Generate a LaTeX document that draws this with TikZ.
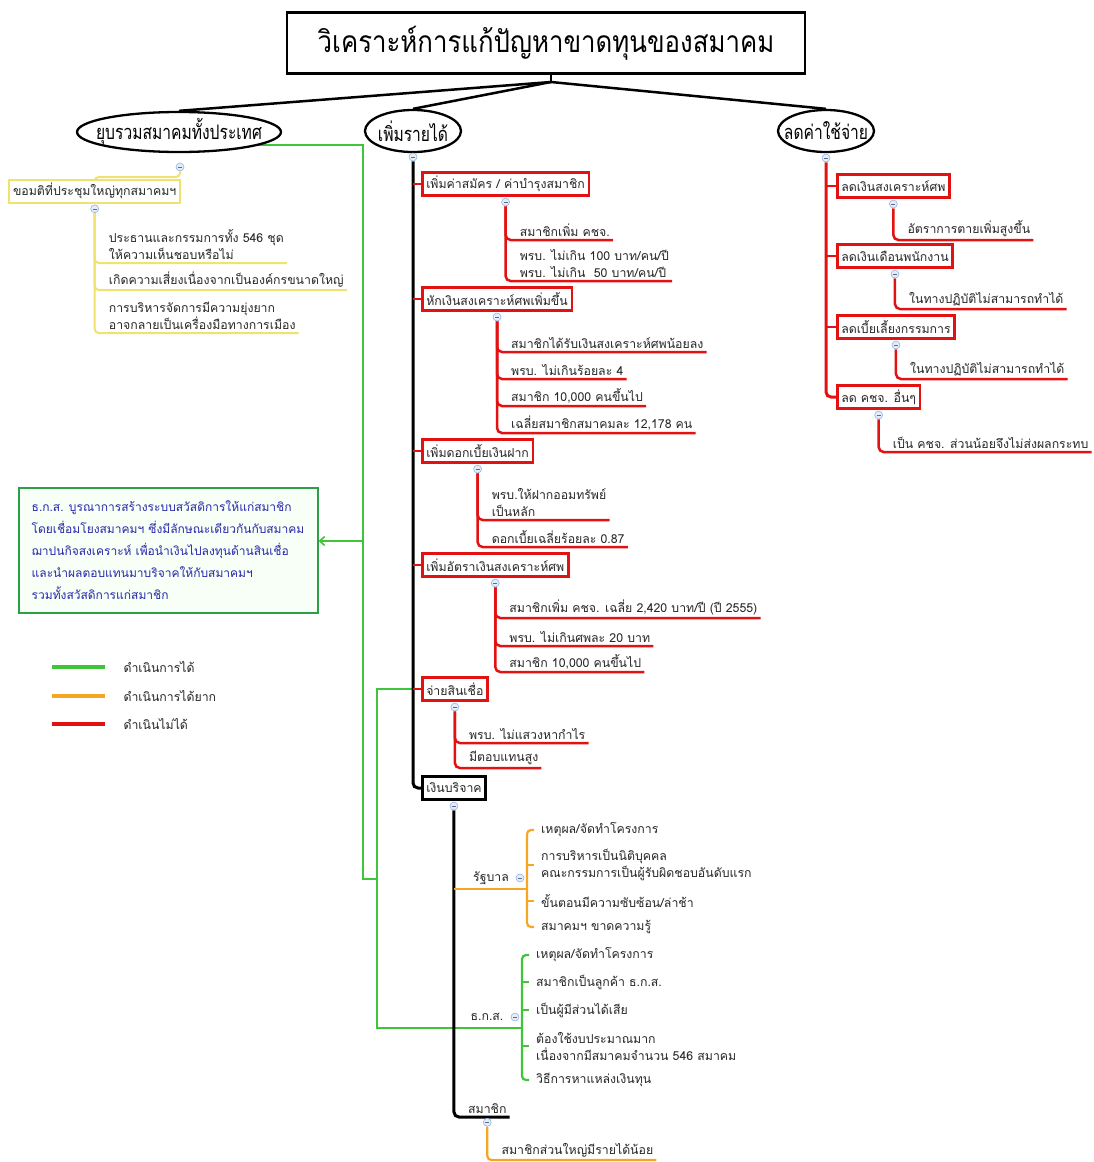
\documentclass[tikz,border=0pt]{standalone}
\usepackage{fontspec}
\setmainfont[Script=Thai]{Loma}
\newfontfamily\headfont[Script=Thai,FakeStretch=0.86]{Loma}
\newfontfamily\topicfont[Script=Thai,FakeStretch=0.78]{Loma}
\usetikzlibrary{positioning,arrows.meta,shapes.geometric,backgrounds}
\definecolor{nored}{RGB}{226,18,18}
\definecolor{okgreen}{RGB}{64,196,56}
\definecolor{hardorange}{RGB}{245,166,35}
\definecolor{askyellow}{RGB}{240,226,110}
\definecolor{notetext}{RGB}{40,40,170}
\definecolor{notegreen}{RGB}{44,160,72}
\definecolor{foldblue}{RGB}{150,180,225}

\begin{document}
\begin{tikzpicture}[
    x=1pt, y=-1pt,
    every node/.style={font=\fontsize{12.3}{17}\selectfont, text=black!85},
    headline/.style={rectangle, draw=black, line width=2.5pt, minimum width=518pt, minimum height=61pt, font=\headfont\fontsize{30}{32}\selectfont, text=black},
    topic/.style={ellipse, draw=black, line width=2.3pt, fill=white, inner xsep=-25pt, inner ysep=-5pt, font=\topicfont\fontsize{20}{22}\selectfont, text=black},
    redbox/.style={rectangle, draw=nored, line width=2.5pt, fill=white, anchor=west, inner xsep=4pt, minimum height=23pt},
    blackbox/.style={redbox, draw=black},
    ybox/.style={redbox, draw=askyellow, line width=2pt},
    note/.style={rectangle, draw=notegreen, line width=2pt, fill=green!3, align=left, text=notetext, minimum width=299pt, minimum height=125pt, font=\fontsize{12}{22}\selectfont},
    fold/.style={circle, draw=foldblue, fill=foldblue!25, line width=0.6pt, minimum size=8pt, inner sep=0pt,
      path picture={\draw[foldblue!60!black, line width=0.6pt] ([xshift=2pt]path picture bounding box.west) -- ([xshift=-2pt]path picture bounding box.east);}},
    leaf/.style={anchor=south west, inner xsep=3pt, inner ysep=3pt, align=left, xshift=11pt},
    kid/.style={anchor=west, inner xsep=3pt, align=left},
    spine/.style={line width=3pt, black, rounded corners=5pt},
    redln/.style={line width=2.5pt, nored, rounded corners=5pt},
    ylwln/.style={line width=2pt, askyellow, rounded corners=4pt},
    orln/.style={line width=2.2pt, hardorange, rounded corners=4pt},
    grnln/.style={line width=2.2pt, okgreen, rounded corners=4pt},
    link/.style={line width=1.6pt, okgreen}
  ]
    \useasboundingbox (0,0) rectangle (1094,1162);

    \node[headline] (title) at (546,43) {วิเคราะห์การแก้ปัญหาขาดทุนของสมาคม};
    \coordinate (hub) at (551,82);
    \node[topic, minimum width=204pt, minimum height=40pt] (merge) at (179,132) {ยุบรวมสมาคมทั้งประเทศ};
    \node[topic, minimum width=96pt, minimum height=42pt] (inc) at (413,131) {เพิ่มรายได้};
    \node[topic, minimum width=96pt, minimum height=42pt] (cut) at (826,131) {ลดค่าใช้จ่าย};
    \node[fold] (fmerge) at (180,167) {};
    \node[fold] (finc) at (413,157) {};
    \node[fold] (fcut) at (826,158) {};

    % ยุบรวม
    \coordinate (ymid) at (180,177);
    \node[ybox] (ask) at (8,191) {ขอมติที่ประชุมใหญ่ทุกสมาคมฯ};
    \node[fold, below=1pt of ask] (fask) {};
    \node[leaf] (ya) at (fask |- 0,263) {ประธานและกรรมการทั้ง 546 ชุด\\ให้ความเห็นชอบหรือไม่};
    \node[leaf] (yb) at (fask |- 0,290) {เกิดความเสี่ยงเนื่องจากเป็นองค์กรขนาดใหญ่};
    \node[leaf] (yc) at (fask |- 0,333) {การบริหารจัดการมีความยุ่งยาก\\อาจกลายเป็นเครื่องมือทางการเมือง};

    \node[note] (note) at (168,550) {ธ.ก.ส. บูรณาการสร้างระบบสวัสดิการให้แก่สมาชิก\\โดยเชื่อมโยงสมาคมฯ ซึ่งมีลักษณะเดียวกันกับสมาคม\\ฌาปนกิจสงเคราะห์ เพื่อนำเงินไปลงทุนด้านสินเชื่อ\\และนำผลตอบแทนมาบริจาคให้กับสมาคมฯ\\รวมทั้งสวัสดิการแก่สมาชิก};

    % legend
    \coordinate (lg1) at (52,667);
    \coordinate (lg2) at (52,696);
    \coordinate (lg3) at (52,724);
    \node[anchor=west] (lt1) at (120,667) {ดำเนินการได้};
    \node[anchor=west] (lt2) at (120,696) {ดำเนินการได้ยาก};
    \node[anchor=west] (lt3) at (120,724) {ดำเนินไม่ได้};

    % เพิ่มรายได้
    \node[redbox] (b1) at (421,184) {เพิ่มค่าสมัคร / ค่าบำรุงสมาชิก};
    \node[fold, below=1pt of b1] (fb1) {};
    \node[leaf] (a11) at (fb1 |- 0,240) {สมาชิกเพิ่ม คชจ.};
    \node[leaf] (a12) at (fb1 |- 0,281) {พรบ. ไม่เกิน 100 บาท/คน/ปี\\พรบ. ไม่เกิน\ \ 50 บาท/คน/ปี};

    \node[redbox] (b2) at (421,299) {หักเงินสงเคราะห์ศพเพิ่มขึ้น};
    \node[fold, below=1pt of b2] (fb2) {};
    \node[leaf] (a21) at (fb2 |- 0,352) {สมาชิกได้รับเงินสงเคราะห์ศพน้อยลง};
    \node[leaf] (a22) at (fb2 |- 0,379) {พรบ. ไม่เกินร้อยละ 4};
    \node[leaf] (a23) at (fb2 |- 0,406) {สมาชิก 10,000 คนขึ้นไป};
    \node[leaf] (a24) at (fb2 |- 0,433) {เฉลี่ยสมาชิกสมาคมละ 12,178 คน};

    \node[redbox] (b3) at (421,451) {เพิ่มดอกเบี้ยเงินฝาก};
    \node[fold, below=1pt of b3] (fb3) {};
    \node[leaf] (a31) at (fb3 |- 0,520) {พรบ.ให้ฝากออมทรัพย์\\เป็นหลัก};
    \node[leaf] (a32) at (fb3 |- 0,547) {ดอกเบี้ยเฉลี่ยร้อยละ 0.87};

    \node[redbox] (b4) at (421,565) {เพิ่มอัตราเงินสงเคราะห์ศพ};
    \node[fold, below=1pt of b4] (fb4) {};
    \node[leaf] (a41) at (fb4 |- 0,618) {สมาชิกเพิ่ม คชจ. เฉลี่ย 2,420 บาท/ปี (ปี 2555)};
    \node[leaf] (a42) at (fb4 |- 0,646) {พรบ. ไม่เกินศพละ 20 บาท};
    \node[leaf] (a43) at (fb4 |- 0,672) {สมาชิก 10,000 คนขึ้นไป};

    \node[redbox] (b5) at (421,689) {จ่ายสินเชื่อ};
    \node[fold, below=1pt of b5] (fb5) {};
    \node[leaf] (a51) at (fb5 |- 0,743) {พรบ. ไม่แสวงหากำไร};
    \node[leaf] (a52) at (fb5 |- 0,768) {มีตอบแทนสูง};

    \node[blackbox] (b6) at (421,788) {เงินบริจาค};
    \node[fold, below=1pt of b6] (fb6) {};

    \node (govtxt) at (491,878) {รัฐบาล};
    \node[fold] (fgov) at (520,878) {};
    \coordinate (gov) at (527,889);
    \node[kid] (gv1) at (538,830) {เหตุผล/จัดทำโครงการ};
    \node[kid] (gv2) at (538,865) {การบริหารเป็นนิติบุคคล\\คณะกรรมการเป็นผู้รับผิดชอบอันดับแรก};
    \node[kid] (gv3) at (538,901) {ขั้นตอนมีความซับซ้อน/ล่าช้า};
    \node[kid] (gv4) at (538,927) {สมาคมฯ ขาดความรู้};

    \node (baactxt) at (487,1017) {ธ.ก.ส.};
    \node[fold] (fbaac) at (515,1017) {};
    \coordinate (baac) at (522,1028);
    \node[kid] (bk1) at (533,955) {เหตุผล/จัดทำโครงการ};
    \node[kid] (bk2) at (533,982) {สมาชิกเป็นลูกค้า ธ.ก.ส.};
    \node[kid] (bk3) at (533,1010) {เป็นผู้มีส่วนได้เสีย};
    \node[kid] (bk4) at (533,1046) {ต้องใช้งบประมาณมาก\\เนื่องจากมีสมาคมจำนวน 546 สมาคม};
    \node[kid] (bk5) at (533,1080) {วิธีการหาแหล่งเงินทุน};

    \node[leaf] (mem) at (fb6 |- 0,1117) {สมาชิก};
    \node[fold, below=1pt of mem] (fmem) {};
    \node[leaf] (m1) at (fmem |- 0,1160) {สมาชิกส่วนใหญ่มีรายได้น้อย};

    % ลดค่าใช้จ่าย
    \node[redbox] (r1) at (836,186) {ลดเงินสงเคราะห์ศพ};
    \node[fold, below=1pt of r1] (fr1) {};
    \node[leaf] (q1) at (fr1 |- 0,240) {อัตราการตายเพิ่มสูงขึ้น};
    \node[redbox] (r2) at (836,256) {ลดเงินเดือนพนักงาน};
    \node[fold, below=1pt of r2] (fr2) {};
    \node[leaf] (q2) at (fr2 |- 0,309) {ในทางปฏิบัติไม่สามารถทำได้};
    \node[redbox] (r3) at (836,327) {ลดเบี้ยเลี้ยงกรรมการ};
    \node[fold, below=1pt of r3] (fr3) {};
    \node[leaf] (q3) at (fr3 |- 0,379) {ในทางปฏิบัติไม่สามารถทำได้};
    \node[redbox] (r4) at (836,397) {ลด คชจ. อื่นๆ};
    \node[fold, below=1pt of r4] (fr4) {};
    \node[leaf] (q4) at (fr4 |- 0,452) {เป็น คชจ. ส่วนน้อยจึงไม่ส่งผลกระทบ};

    % green links
    \coordinate (lk1) at (363,145);
    \coordinate (lk2) at (363,879);
    \coordinate (lk3) at (377,879);
    \coordinate (lk4) at (377,689);
    \coordinate (lk5) at (377,1028);
    \coordinate (lk6) at (363,541);

    \begin{scope}[on background layer]
      \draw[line width=2.5pt] (hub |- title.south) -- (hub);
      \draw[line width=2.5pt] (hub) -- (merge.north);
      \draw[line width=2.5pt] (hub) -- (inc.north);
      \draw[line width=2.5pt] (hub) -- (cut.north);

      \draw[ylwln] (fmerge.south) -- (ymid) -| (ask.north);
      \foreach \a in {ya,yb,yc}
        \draw[ylwln] (fask.south) |- (\a.south east);

      \draw[link] ([yshift=-13pt]merge.center) -- (lk1) -- (lk2) -- (lk3);
      \draw[link] (finc.south |- b5.west) -- (lk4) -- (lk5) -- (baac);
      \draw[link, -{Straight Barb[length=5pt,width=9pt]}] (lk6) -- (note.east |- lk6);

      \draw[spine] (finc.south) |- (b6.west);
      \foreach \b in {b1,b2,b3,b4,b5}
        \draw[redln, rounded corners=0pt] (finc.south |- \b.west) -- (\b.west);
      \foreach \f/\a in {fb1/a11,fb1/a12,fb2/a21,fb2/a22,fb2/a23,fb2/a24,fb3/a31,fb3/a32,fb4/a41,fb4/a42,fb4/a43,fb5/a51,fb5/a52}
        \draw[redln] (\f.south) |- (\a.south east);

      \draw[spine] (fb6.south) |- (mem.south east);
      \draw[orln, rounded corners=0pt] (fb6.south |- gov) -- (gov);
      \draw[orln] ([xshift=-4pt]gv1.west) -| (gov) |- ([xshift=-4pt]gv4.west);
      \foreach \k in {gv2,gv3}
        \draw[orln, rounded corners=0pt] (gov |- \k.west) -- ([xshift=-4pt]\k.west);
      \draw[grnln] ([xshift=-4pt]bk1.west) -| (baac) |- ([xshift=-4pt]bk5.west);
      \foreach \k in {bk2,bk3,bk4}
        \draw[grnln, rounded corners=0pt] (baac |- \k.west) -- ([xshift=-4pt]\k.west);
      \draw[orln] (fmem.south) |- (m1.south east);

      \draw[redln, line width=3pt] (fcut.south) |- (r4.west);
      \foreach \b in {r1,r2,r3}
        \draw[redln, rounded corners=0pt] (fcut.south |- \b.west) -- (\b.west);
      \foreach \f/\a in {fr1/q1,fr2/q2,fr3/q3,fr4/q4}
        \draw[redln] (\f.south) |- (\a.south east);

      \draw[line width=4pt, okgreen] (lg1) -- ++(53,0);
      \draw[line width=4pt, hardorange] (lg2) -- ++(53,0);
      \draw[line width=4pt, nored] (lg3) -- ++(53,0);
    \end{scope}

  \end{tikzpicture}
\end{document}
